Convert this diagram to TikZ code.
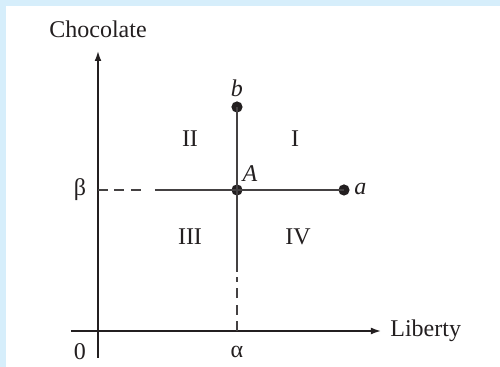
\documentclass[tikz,border=0pt]{standalone}
\usepackage{fontspec}
\setmainfont{Liberation Serif}
\usetikzlibrary{arrows.meta, positioning}
\definecolor{panelblue}{HTML}{D6EEFB}
\definecolor{ink}{HTML}{231F20}

\begin{document}
\begin{tikzpicture}[
    x=0.5pt, y=-0.5pt,
    axis/.style={line width=0.75pt, ink, -{Latex[length=5pt, width=3.4pt]}},
    guide/.style={line width=0.75pt, ink!85},
    guidedash/.style={guide, dash pattern=on 5pt off 3.2pt},
    dot/.style={circle, fill=ink, inner sep=0pt, minimum size=5.6pt},
    lbl/.style={font=\fontsize{12}{14}\selectfont, text=ink, inner sep=0pt},
    pt/.style={lbl, font=\fontsize{12}{14}\selectfont\itshape}
  ]

  % Panel
  \fill[panelblue] (0,0) rectangle (500,367);
  \fill[white] (6,6) rectangle (500,367);
  \useasboundingbox (0,0) rectangle (500,367);

  % Axes
  \coordinate (xfrom) at (71,331);
  \coordinate (xto) at (381,331);
  \coordinate (yfrom) at (98,358);
  \coordinate (yto) at (98,51);
  \draw[axis] (xfrom) -- (xto);
  \draw[axis] (yfrom) -- (yto);
  \node[lbl, anchor=west] (liberty) at (390,331) {Liberty};
  \node[lbl] (chocolate) at (98,29) {Chocolate};
  \node[lbl] (zero) at (80,352) {0};
  \node[lbl] (alpha) at (237,352) {α};
  \node[lbl] (beta) at (80,190) {β};

  % Points
  \node[dot] (A) at (237,190) {};
  \node[dot] (a) at (344,190) {};
  \node[dot] (b) at (237,107) {};
  \node[pt, anchor=west] (alab) at (354,189) {a};
  \node[pt] (blab) at (237,88) {b};
  \node[pt] (Alab) at (250,174) {A};

  % Guide lines
  \coordinate (betaleft) at (98,190);
  \coordinate (betadash) at (144,190);
  \coordinate (betasolid) at (155,190);
  \coordinate (alphalow) at (237,331);
  \coordinate (alphadash) at (237,277);
  \coordinate (alphasolid) at (237,272);
  \draw[guidedash] (betaleft) -- (betadash);
  \draw[guide] (betasolid) -- (a.center);
  \draw[guide] (b.center) -- (alphasolid);
  \draw[guidedash] (alphalow) -- (alphadash);

  % Regions
  \node[lbl] (reg1) at (295,139) {I};
  \node[lbl] (reg2) at (190,139) {II};
  \node[lbl] (reg3) at (190,237) {III};
  \node[lbl] (reg4) at (298,237) {IV};

\end{tikzpicture}
\end{document}
